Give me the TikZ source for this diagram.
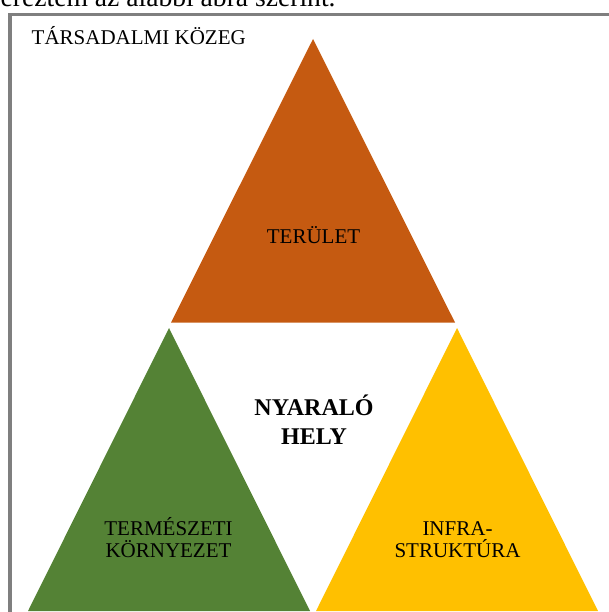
\documentclass[tikz,border=0pt]{standalone}
\usepackage{fontspec}
\setmainfont{Liberation Serif}
\usetikzlibrary{calc}
\definecolor{teruletcol}{HTML}{C55A11}
\definecolor{termcol}{HTML}{548235}
\definecolor{infracol}{HTML}{FFC000}
\definecolor{keretcol}{HTML}{7F7F7F}
\newcommand{\haromszog}[4] % apex x in pt, apex y in pt, colour, name
{
	% triangle, height 283, half base 141
	\fill[#3] (#1,#2) coordinate (#4 csucs) -- (#1+141,#2+283) -- (#1-141,#2+283) -- cycle;
	% centre of the label area
	\coordinate (#4 kozep) at (#1,#2+200);
}
\tikzset{
	cimke/.style={font=\fontsize{21}{21.5}\selectfont, align=center, inner sep=0pt},
	kozepcimke/.style={font=\fontsize{24}{29}\selectfont\bfseries, align=center, inner sep=0pt}
}

\begin{document}
\begin{tikzpicture}[x=1pt, y=-1pt]
	% 609 x 612, origin top left
	\useasboundingbox (0,0) rectangle (609,612);
	\clip (0,0) rectangle (609,612);
	% line of the page above the figure
	\node[font=\fontsize{27.6}{30}\selectfont, anchor=base west, inner sep=0pt] (szoveg) at (0.5,7) {ereztem az alábbi ábra szerint.};
	% frame
	\draw[keretcol, line width=3.5pt] (10,640) -- (10,14.3) -- (640,14.3);
	\node[cimke, anchor=base west] (kozeg) at (31.5,45) {TÁRSADALMI KÖZEG};
	% the three triangles
	\fill[teruletcol] (313,39) coordinate (terulet csucs) -- (455,322.5) -- (171,322.5) -- cycle;
	\haromszog{169}{328}{termcol}{term}
	\haromszog{457}{328}{infracol}{infra}
	% labels (base = last line)
	\node[cimke, anchor=base] (terulet) at (313.5,243) {TERÜLET};
	\node[kozepcimke, anchor=base] (hely) at (314,444) {NYARALÓ\\HELY};
	\node[cimke, anchor=base] (termeszeti) at (168.5,557) {TERMÉSZETI\\KÖRNYEZET};
	\node[cimke, anchor=base] (infrastr) at (457.5,557) {INFRA-\\STRUKTÚRA};
\end{tikzpicture}
\end{document}
